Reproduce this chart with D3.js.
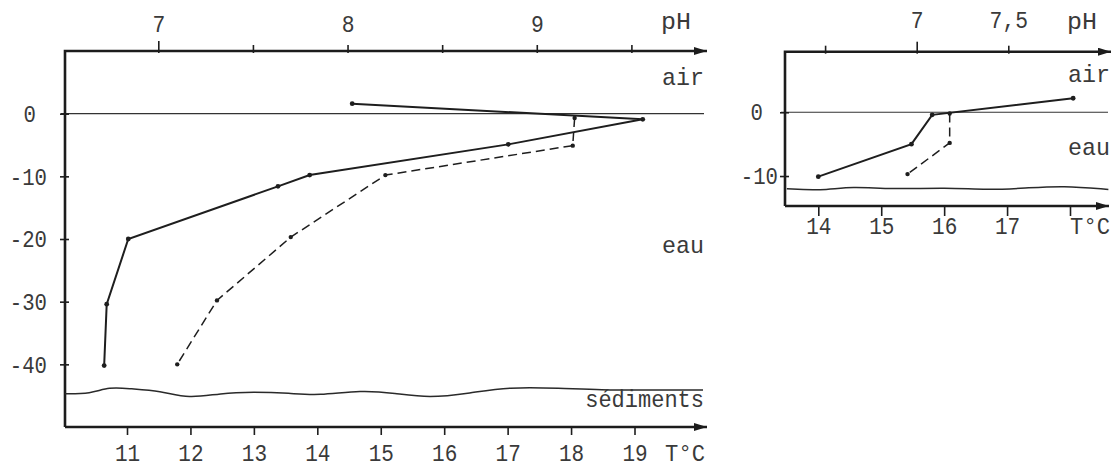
<!DOCTYPE html>
<html>
<head>
  <meta charset="utf-8">
  <title>Profils pH et temperature</title>
  <script src="https://cdn.jsdelivr.net/npm/d3@7"></script>
  <style>
    body { margin: 0; background: #fff; }
    svg text { font-family: "Liberation Mono", "DejaVu Sans Mono", monospace; fill: #3a3a3a; }
    .axis path.domain { display: none; }
    .axis line { stroke: #1e1e1e; stroke-width: 1.6; }
    .axis text { font-size: 24px; }
    .frame { fill: none; stroke: #1c1c1c; stroke-width: 2.6; }
    .zero { stroke: #333; stroke-width: 1.1; }
    .temp { fill: none; stroke: #1e1e1e; stroke-width: 2; }
    .ph { fill: none; stroke: #1e1e1e; stroke-width: 1.5; stroke-dasharray: 9 5; }
    .sed { fill: none; stroke: #2a2a2a; stroke-width: 1.5; }
    .dot { fill: #1e1e1e; }
    .word { font-size: 24px; }
  </style>
</head>
<body>
<div id="chart"></div>
<script>
  // grand lac : profondeur (m), temperature (degres C), pH
  var tempDepth = [1.6, -0.9, -4.9, -9.8, -11.6, -20, -30.4, -40.2];
  var tempVals  = [14.55, 19.13, 17.01, 13.88, 13.38, 11.02, 10.68, 10.64];
  var phDepth   = [-0.7, -5.1, -9.8, -19.7, -29.8, -40];
  var phVals    = [9.20, 9.19, 8.20, 7.70, 7.31, 7.10];
  var sedT      = [10.02, 10.42, 10.72, 11.05, 11.52, 11.98, 12.47, 12.99, 13.57, 14.01, 14.70, 15.22, 15.76, 16.41, 17.01, 17.83, 18.46, 19.24, 19.91, 20.08];
  var sedDepth  = [-44.7, -44.7, -43.6, -43.9, -44.2, -45.5, -44.6, -44.4, -44.6, -45.0, -44.1, -44.6, -45.4, -44.6, -43.6, -43.8, -44.1, -44.1, -44.1, -44.1];

  // petit lac
  var tempDepth2 = [-10.1, -5, -0.4, 2.2];
  var tempVals2  = [14.0, 15.48, 15.81, 18.05];
  var phDepth2   = [-0.2, -4.8, -9.7];
  var phVals2    = [7.18, 7.18, 6.95];
  var sedT2      = [13.50, 14.03, 14.55, 15.14, 16.05, 16.68, 17.29, 17.89, 18.61];
  var sedDepth2  = [-12.0, -12.3, -11.6, -12.1, -11.8, -12.2, -11.9, -11.5, -12.1];

  // graduations
  var tTicks      = [11, 12, 13, 14, 15, 16, 17, 18, 19];
  var phTicks     = [7, 7.5, 8, 8.5, 9, 9.5];
  var depthTicks  = [0, -10, -20, -30, -40];
  var tTicks2     = [14, 15, 16, 17, 18];
  var phTicks2    = [6.5, 7, 7.5];
  var phLabels2   = {7: '7', 7.5: '7,5'};
  var depthTicks2 = [0, -10];

  var svg = d3.select('#chart').append('svg')
      .attr('width', 1112)
      .attr('height', 468);

  svg.append('defs').append('marker')
      .attr('id', 'arrow')
      .attr('viewBox', '0 0 13 8')
      .attr('refX', 13)
      .attr('refY', 4)
      .attr('markerWidth', 13)
      .attr('markerHeight', 8)
      .attr('markerUnits', 'userSpaceOnUse')
      .attr('orient', 'auto')
    .append('path')
      .attr('d', 'M0,0L13,4L0,8z')
      .attr('fill', '#1c1c1c');

  // narrow typewriter look: squeeze glyphs to a fixed advance
  function squeeze(sel, w) {
    sel.each(function() {
      var n = d3.select(this).text().length;
      if (n) d3.select(this).attr('textLength', n * w).attr('lengthAdjust', 'spacingAndGlyphs');
    });
  }

  function drawPanel(p) {
    var g = svg.append('g');
    var top = p.y.range()[1], bottom = p.y.range()[0];

    g.append('line').attr('class', 'zero')
      .attr('x1', p.left - 4).attr('x2', p.right - 3)
      .attr('y1', p.y(0)).attr('y2', p.y(0));

    // axes
    var gt = g.append('g').attr('class', 'axis')
        .attr('transform', 'translate(0,' + top + ')')
        .call(d3.axisTop(p.ph).tickValues(p.phTicks).tickSize(10).tickPadding(p.phPad).tickFormat(p.phFmt));
    gt.selectAll('.tick line').attr('y2', function(d) { return p.phLong(d) ? -10 : -6; }).attr('y1', 2);
    squeeze(gt.selectAll('text'), 12.8);

    var gb = g.append('g').attr('class', 'axis')
        .attr('transform', 'translate(0,' + bottom + ')')
        .call(d3.axisBottom(p.t).tickValues(p.tTicks).tickSize(p.tTick).tickPadding(p.tPad).tickFormat(p.tFmt));
    squeeze(gb.selectAll('text'), 12.6);

    var gl = g.append('g').attr('class', 'axis')
        .attr('transform', 'translate(' + p.left + ',0)')
        .call(d3.axisLeft(p.y).tickValues(p.dTicks).tickSize(5).tickPadding(p.dPad).tickFormat(function(d) { return String(d); }));
    gl.selectAll('.tick line').attr('x1', 4);
    gl.selectAll('text').attr('dx', function(d) { return d === 0 ? p.zeroDx : 0; });
    squeeze(gl.selectAll('text'), 12.4);

    g.append('path').attr('class', 'frame')
      .attr('d', 'M' + p.left + ',' + bottom + 'V' + top + 'H' + p.right)
      .attr('marker-end', 'url(#arrow)');
    g.append('path').attr('class', 'frame')
      .attr('d', 'M' + p.left + ',' + bottom + 'H' + p.rightB)
      .attr('marker-end', 'url(#arrow)');

    // sediments
    g.append('path').attr('class', 'sed')
      .attr('d', d3.line().curve(d3.curveBasis)
        .x(function(d) { return p.t(d[0]); })
        .y(function(d) { return p.y(d[1]); })(d3.zip(p.sedT, p.sedD)));

    // profiles
    var tLine = d3.line().x(function(d) { return p.t(d[0]); }).y(function(d) { return p.y(d[1]); });
    var phLine = d3.line().x(function(d) { return p.ph(d[0]); }).y(function(d) { return p.y(d[1]); });
    var tPts = d3.zip(p.tempVals, p.tempDepth);
    var phPts = d3.zip(p.phVals, p.phDepth);

    g.append('path').attr('class', 'temp').attr('d', tLine(tPts));
    g.append('path').attr('class', 'ph').attr('d', phLine(phPts));

    g.selectAll('.tdot').data(tPts).enter().append('circle').attr('class', 'dot')
      .attr('cx', function(d) { return p.t(d[0]); })
      .attr('cy', function(d) { return p.y(d[1]); })
      .attr('r', 2.4);
    g.selectAll('.pdot').data(phPts).enter().append('circle').attr('class', 'dot')
      .attr('cx', function(d) { return p.ph(d[0]); })
      .attr('cy', function(d) { return p.y(d[1]); })
      .attr('r', 2.2);

    p.words.forEach(function(w) {
      var t = g.append('text').attr('class', 'word')
        .attr('x', w[1]).attr('y', w[2])
        .attr('text-anchor', w[3] || 'end')
        .text(w[0]);
      squeeze(t, w[4] || 14);
    });
  }

  drawPanel({
    left: 65, right: 707, rightB: 707,
    y: d3.scaleLinear().domain([-50, 10]).range([427, 51]),
    t: d3.scaleLinear().domain([11, 19]).range([127, 634.5]),
    ph: d3.scaleLinear().domain([7, 9.5]).range([158.3, 631.4]),
    phTicks: phTicks, phPad: 9,
    phFmt: function(d) { return Number.isInteger(d) ? String(d) : ''; },
    phLong: function(d) { return d === 7; },
    tTicks: tTicks, tTick: 8, tPad: 9,
    tFmt: function(d) { return String(d); },
    dTicks: depthTicks, dPad: 13, zeroDx: -11,
    tempVals: tempVals, tempDepth: tempDepth,
    phVals: phVals, phDepth: phDepth,
    sedT: sedT, sedD: sedDepth,
    words: [['pH', 691, 29, 'end', 15], ['air', 704, 85], ['eau', 704, 253],
            ['s\u00e9diments', 704, 407, 'end', 13.2], ['T\u00b0C', 705, 461, 'end', 13.3]]
  });

  drawPanel({
    left: 785, right: 1111, rightB: 1109,
    y: d3.scaleLinear().domain([-14.7, 9.5]).range([206, 51.7]),
    t: d3.scaleLinear().domain([14, 18]).range([818.3, 1070]),
    ph: d3.scaleLinear().domain([7, 7.5]).range([916.7, 1008.3]),
    phTicks: phTicks2, phPad: 14,
    phFmt: function(d) { return phLabels2[d] || ''; },
    phLong: function(d) { return d === 7; },
    tTicks: tTicks2, tTick: 10, tPad: 1,
    tFmt: function(d) { return d === 18 ? '' : String(d); },
    dTicks: depthTicks2, dPad: 2, zeroDx: -15,
    tempVals: tempVals2, tempDepth: tempDepth2,
    phVals: phVals2, phDepth: phDepth2,
    sedT: sedT2, sedD: sedDepth2,
    words: [['pH', 1097, 29, 'end', 15], ['air', 1110, 82], ['eau', 1110, 155],
            ['T\u00b0C', 1110, 234, 'end', 13.3]]
  });
</script>
</body>
</html>
